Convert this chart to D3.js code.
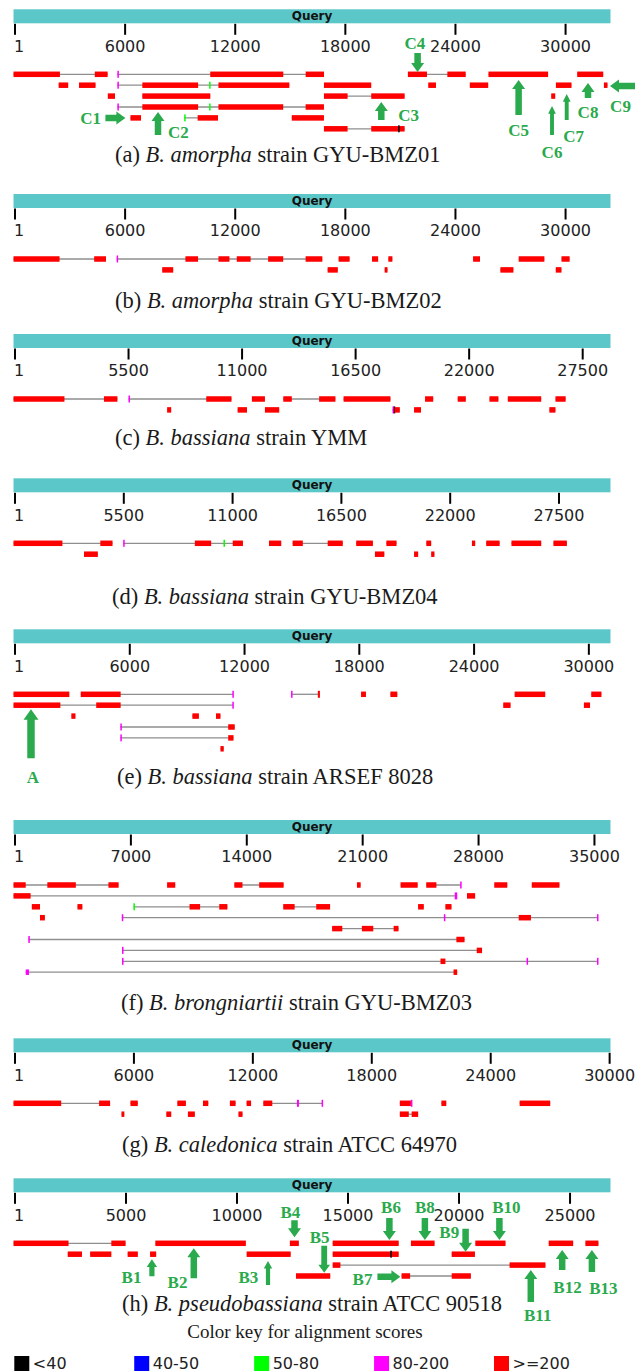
<!DOCTYPE html>
<html>
<head>
<meta charset="utf-8">
<script src="https://cdn.jsdelivr.net/npm/d3@7/dist/d3.min.js"></script>
<style>body{margin:0;background:#fff;}</style>
</head>
<body>
<div id="chart"></div>
<script>
// query lengths and tick labels of the 8 panels
var query_len = [32530, 32530, 28920, 30180, 31210, 36060, 30120, 26890];
var ticks_a = [1, 6000, 12000, 18000, 24000, 30000];
var ticks_c = [1, 5500, 11000, 16500, 22000, 27500];
var ticks_f = [1, 7000, 14000, 21000, 28000, 35000];
var ticks_h = [1, 5000, 10000, 15000, 20000, 25000];
var panel_ticks = [ticks_a, ticks_a, ticks_c, ticks_c, ticks_a, ticks_f, ticks_a, ticks_h];

var cap_tag = ["(a) ", "(b) ", "(c) ", "(d) ", "(e) ", "(f) ", "(g) ", "(h) "];
var cap_species = ["B. amorpha", "B. amorpha", "B. bassiana", "B. bassiana", "B. bassiana", "B. brongniartii", "B. caledonica", "B. pseudobassiana"];
var cap_strain = [" strain GYU-BMZ01", " strain GYU-BMZ02", " strain YMM", " strain GYU-BMZ04", " strain ARSEF 8028", " strain GYU-BMZ03", " strain ATCC 64970", " strain ATCC 90518"];

// score classes for the colour key
var key_labels = ["<40", "40-50", "50-80", "80-200", ">=200"];
var key_colors = ["#000000", "#0000ff", "#00ff00", "#ff00ff", "#ff0000"];

// hits: [row, [[start, end, scoreClass(default 4)], ...]]
var hits_a = [
  [0, [[0,2530],[4430,5130]]],
  [0, [[5660,5700,3],[10720,14700],[15920,16920]]],
  [0, [[21490,22530],[23640,24640]]],
  [0, [[25880,29130]]],
  [0, [[30716,32133]]],
  [1, [[2460,2980]]],
  [1, [[3570,4470]]],
  [1, [[5660,5700,3],[7020,10060],[10660,10700,2],[11167,15030]]],
  [1, [[16916,19492]]],
  [1, [[22600,23020]]],
  [1, [[24864,25866]]],
  [1, [[29555,30405]]],
  [1, [[32171,32367]]],
  [2, [[5140,5530]]],
  [2, [[7020,10723]]],
  [2, [[16916,18204],[19492,21312]]],
  [2, [[29300,29517]]],
  [3, [[5660,5700,3],[7020,10060],[10660,10700,2],[11167,14696],[15917,16916]]],
  [4, [[6371,6949]]],
  [4, [[9300,9340,2],[10034,11144]]],
  [4, [[15162,16916]]],
  [5, [[16916,18204],[19492,21312],[20960,20990,0]]]
];
var hits_b = [
  [0, [[0,2509],[4396,5040]]],
  [0, [[5620,5660,3],[9368,10057],[11167,11766],[12166,12920],[13875,14696],[15917,16828]]],
  [0, [[17716,18315]]],
  [0, [[19536,19869]]],
  [0, [[20424,20646]]],
  [0, [[25042,25419]]],
  [0, [[27528,28927]]],
  [0, [[29859,30303]]],
  [1, [[8103,8702]]],
  [1, [[17116,17671]]],
  [1, [[20224,20380]]],
  [1, [[26529,27239]]],
  [1, [[29548,29859]]]
];
var hits_c = [
  [0, [[0,2468],[4382,5034]]],
  [0, [[5570,5610,3],[9337,10561]]],
  [0, [[11548,12180]]],
  [0, [[13068,13482],[14805,15595]]],
  [0, [[15989,18260]]],
  [0, [[19937,20332]]],
  [0, [[21517,21911]]],
  [0, [[23056,23491]]],
  [0, [[23945,25563]]],
  [0, [[26254,26748]]],
  [1, [[7442,7639]]],
  [1, [[10857,11311]]],
  [1, [[12180,12871]]],
  [1, [[18360,18395,3],[18420,18440,0],[18460,18714]]],
  [1, [[19404,19740]]],
  [1, [[25958,26254]]]
];
var hits_d = [
  [0, [[0,2472],[4388,5006]]],
  [0, [[5545,5580,3],[9167,9991],[10615,10650,2],[11083,11598]]],
  [0, [[12916,13534]]],
  [0, [[14111,14626],[15883,16645]]],
  [0, [[17325,18169]]],
  [0, [[18849,19364]]],
  [0, [[20868,21115]]],
  [0, [[23175,23340]]],
  [0, [[23896,24576]]],
  [0, [[25173,26677]]],
  [0, [[27295,27975]]],
  [1, [[3564,4264]]],
  [1, [[18272,18746]]],
  [1, [[20250,20456]]],
  [1, [[21115,21280]]]
];
var hits_e = [
  [0, [[0,2918]]],
  [0, [[3515,5602],[11440,11480,3]]],
  [0, [[14510,14550,3],[15911,16018]]],
  [0, [[18170,18425]]],
  [0, [[19703,20065]]],
  [0, [[26200,27797]]],
  [0, [[30204,30736]]],
  [1, [[0,2450],[4324,5602],[11440,11480,3]]],
  [1, [[25603,25986]]],
  [1, [[29820,30140]]],
  [2, [[3025,3238]]],
  [2, [[9351,9692]]],
  [2, [[10586,10820]]],
  [3, [[5585,5620,3],[11225,11566]]],
  [4, [[5585,5620,3],[11225,11502]]],
  [5, [[10820,10991]]]
];
var hits_f = [
  [0, [[0,738],[2043,3765],[5734,6349]]],
  [0, [[9278,9770]]],
  [0, [[13339,13831],[14840,16317]]],
  [0, [[20746,20968]]],
  [0, [[23380,24413]]],
  [0, [[24930,25545],[26980,27020,3]]],
  [0, [[29040,29827]]],
  [0, [[31304,32977]]],
  [1, [[0,1034],[26652,26800,3]]],
  [1, [[27391,27883]]],
  [2, [[1107,1600]]],
  [2, [[3864,4159]]],
  [2, [[7245,7280,2],[10632,11271],[12428,12920]]],
  [2, [[16292,16981],[18285,19122]]],
  [2, [[24438,24783]]],
  [2, [[26087,26456]]],
  [3, [[1600,1895]]],
  [3, [[6540,6620,3],[25995,26035,3],[30516,31255],[35245,35285,3]]],
  [4, [[19245,19860],[21042,21731],[22961,23256]]],
  [5, [[895,930,3],[26751,27243]]],
  [6, [[6555,6595,3],[27981,28301]]],
  [7, [[6555,6595,3],[25791,26087],[30990,31030,3],[35245,35285,3]]],
  [8, [[738,935,3],[26579,26800]]]
];
var hits_g = [
  [0, [[0,2406],[4318,4873]]],
  [0, [[5901,6271]]],
  [0, [[8265,8697]]],
  [0, [[9560,9828]]],
  [0, [[10917,11205]]],
  [0, [[11760,11986]]],
  [0, [[12603,13056],[14300,14400,3],[15545,15585,3]]],
  [0, [[19491,20050],[20050,20108,3]]],
  [0, [[21588,21835]]],
  [0, [[25536,27078]]],
  [1, [[5448,5592]]],
  [1, [[7710,7957]]],
  [1, [[8800,9149]]],
  [1, [[11349,11555]]],
  [1, [[19491,19943],[20087,20416]]]
];
var hits_h = [
  [0, [[0,2479],[4406,5049]]],
  [0, [[6389,10465]]],
  [0, [[12448,12852]]],
  [0, [[14376,17350]]],
  [0, [[17901,18966]]],
  [0, [[20802,22161]]],
  [0, [[24107,25208]]],
  [0, [[25759,26347]]],
  [1, [[2442,3084]]],
  [1, [[3452,4406]]],
  [1, [[5141,5600]]],
  [1, [[6151,6426]]],
  [1, [[10502,12485]]],
  [1, [[14376,17350],[16970,16995,0]]],
  [1, [[19737,20784]]],
  [2, [[14376,14725],[22344,23960]]],
  [3, [[12723,14266]]],
  [3, [[17479,17864],[19737,20600]]]
];
var panel_hits = [hits_a, hits_b, hits_c, hits_d, hits_e, hits_f, hits_g, hits_h];

// green arrows: [label, direction, tip position, tip row, length, label dx, label dy, size]
var arrows_a = [
  ["C1", "right", 6097, 4.01, 20, -34.7, 0, 1],
  ["C2", "up", 7874, 3.46, 23, 20.3, 19.5, 1],
  ["C3", "up", 20041, 2.54, 18, 27.3, 13, 1],
  ["C4", "down", 22019, -0.21, 19, -2.6, -29, 1],
  ["C5", "up", 27523, 0.52, 35, 0, 50, 1],
  ["C6", "up", 29343, 2.91, 29, 0, 46, 0.6],
  ["C7", "up", 30144, 1.81, 26, 6.9, 42, 0.6],
  ["C8", "up", 31304, 0.8, 15, 0, 29, 1],
  ["C9", "left", 32503, 1.07, 25, 10.5, 20, 1]
];
var arrows_e = [
  ["A", "up", 915, 1.38, 49, 2, 67.4, 1.15]
];
var arrows_h = [
  ["B1", "up", 6234, 1.47, 17, -20.4, 17.4, 0.8],
  ["B2", "up", 8121, 0.46, 30, -16.3, 33.4, 1],
  ["B3", "up", 11463, 1.62, 24, -19.6, 15.7, 0.65],
  ["B4", "down", 12657, -0.55, 17, -4.1, -25.6, 1],
  ["B5", "down", 13995, 2.7, 27, -4.5, -35.4, 0.9],
  ["B6", "down", 16931, -0.3, 22, 1.6, -33.3, 1],
  ["B7", "right", 17427, 3.06, 23, -37.9, 2.6, 1],
  ["B8", "down", 18530, -0.3, 22, 0, -33.3, 1],
  ["B9", "down", 20363, 0.77, 23, -16.3, -20, 1],
  ["B10", "down", 21886, -0.3, 22, 7, -32.7, 1],
  ["B11", "up", 23300, 2.45, 32, 6.9, 45, 1],
  ["B12", "up", 24714, 0.61, 20, 5.3, 36.7, 1],
  ["B13", "up", 26052, 0.61, 22, 11.5, 38.3, 1]
];
var panel_arrows = [arrows_a, [], [], [], arrows_e, [], [], arrows_h];

// layout
var width = 638, height = 1372;
var panel_top = [9.3, 194, 334, 478.3, 629.3, 820, 1038.3, 1178.3];
var caption_y = [162, 307.5, 444.5, 604.2, 784.2, 1010.2, 1151.5, 1310.8];
var caption_x = [115, 115, 115, 112, 117, 121, 122, 122];
var row_offset = 65, row_step = 10.9;
var teal = "#5cc7c8", green = "#2aaa4c", line_gray = "#8e8e8e";

var svg = d3.select("#chart").append("svg").attr("width", width).attr("height", height)
  .style("background", "#fff");

function draw_arrow(g, x, y, d) {
  var dir = d[1], len = d[4], s = d[7];
  var W = 13 * s, S = 6.5 * s, H = 9 * Math.max(s, 0.85);
  var pts = [[0,0],[W/2,H],[S/2,H],[S/2,len],[-S/2,len],[-S/2,H],[-W/2,H]];
  var rot = {up: 0, down: 180, right: 90, left: -90}[dir];
  g.append("path")
    .attr("d", "M" + pts.map(function(p){ return p.join(","); }).join("L") + "Z")
    .attr("fill", green)
    .attr("transform", "translate(" + x + "," + y + ") rotate(" + rot + ")");
  g.append("text").attr("x", x + d[5]).attr("y", y + d[6]).attr("dy", "0.36em")
    .attr("text-anchor", "middle")
    .style("font-family", "'Liberation Serif', serif").style("font-weight", "bold")
    .style("font-size", "17px").attr("fill", green).text(d[0]);
}

function draw_panel(i) {
  var top = panel_top[i];
  var g = svg.append("g");
  var x = d3.scaleLinear().domain([0, query_len[i]]).range([13.5, 610.5]);
  var rowY = function(r) { return top + row_offset + r * row_step; };

  g.append("rect").attr("x", x(0)).attr("y", top).attr("width", x(query_len[i]) - x(0)).attr("height", 14).attr("fill", teal);
  g.append("text").attr("x", (x(0) + x(query_len[i])) / 2).attr("y", top + 11)
    .attr("text-anchor", "middle").style("font-family", "'DejaVu Sans', sans-serif")
    .style("font-weight", "bold").style("font-size", "12px").attr("fill", "#111").text("Query");

  var axis = d3.axisBottom(x).tickValues(panel_ticks[i]).tickSize(11).tickPadding(5.5).tickFormat(d3.format("d"));
  var ax = g.append("g").attr("transform", "translate(1,"+ (top + 14.5) + ")").call(axis);
  ax.select(".domain").remove();
  ax.selectAll(".tick line").attr("stroke", "#000").attr("stroke-width", 2);
  ax.selectAll(".tick text").attr("fill", "#222")
    .style("font-family", "'DejaVu Sans', sans-serif").style("font-size", "16px");
  ax.selectAll(".tick text").filter(function(d){ return d === 1; }).attr("text-anchor", "start").attr("x", -1);

  var hits = panel_hits[i];
  // connecting lines first
  g.selectAll(".hitline").data(hits).enter().append("line")
    .attr("x1", function(h){ return x(d3.min(h[1], function(s){ return s[0]; })); })
    .attr("x2", function(h){ return x(d3.max(h[1], function(s){ return s[1]; })); })
    .attr("y1", function(h){ return rowY(h[0]); })
    .attr("y2", function(h){ return rowY(h[0]); })
    .attr("stroke", line_gray).attr("stroke-width", 1.3);

  var hsps = [];
  hits.forEach(function(h){ h[1].forEach(function(s){ hsps.push({row: h[0], s: s[0], e: s[1], c: s.length > 2 ? s[2] : 4}); }); });
  g.selectAll(".hsp").data(hsps).enter().append("rect")
    .attr("x", function(d){ return x(d.s); })
    .attr("width", function(d){ return Math.max(x(d.e) - x(d.s), 1.5); })
    .attr("y", function(d){ return rowY(d.row) - ((x(d.e) - x(d.s)) < 2.5 ? 3.5 : 2.75); })
    .attr("height", function(d){ return (x(d.e) - x(d.s)) < 2.5 ? 7 : 5.5; })
    .attr("fill", function(d){ return key_colors[d.c]; });

  panel_arrows[i].forEach(function(a){ draw_arrow(g, x(a[2]), rowY(a[3]), a); });

  var cap = g.append("text").attr("x", caption_x[i]).attr("y", caption_y[i])
    .style("font-family", "'Liberation Serif', serif").style("font-size", "22.5px").attr("fill", "#1a1a1a");
  cap.append("tspan").text(cap_tag[i]);
  cap.append("tspan").style("font-style", "italic").text(cap_species[i]);
  cap.append("tspan").text(cap_strain[i]);
}

for (var i = 0; i < 8; i++) draw_panel(i);

// colour key
svg.append("text").attr("x", 305).attr("y", 1338).attr("text-anchor", "middle")
  .style("font-family", "'Liberation Serif', serif").style("font-size", "19px").attr("fill", "#1a1a1a")
  .text("Color key for alignment scores");
var kx = d3.scalePoint().domain(key_labels).range([14.3, 494]);
var key = svg.selectAll(".key").data(key_labels).enter().append("g")
  .attr("transform", function(d){ return "translate(" + kx(d) + ",1356)"; });
key.append("rect").attr("width", 15).attr("height", 15).attr("fill", function(d, j){ return key_colors[j]; });
key.append("text").attr("x", 18.5).attr("y", 13).attr("fill", "#222")
  .style("font-family", "'DejaVu Sans', sans-serif").style("font-size", "16px").text(function(d){ return d; });
</script>
</body>
</html>
